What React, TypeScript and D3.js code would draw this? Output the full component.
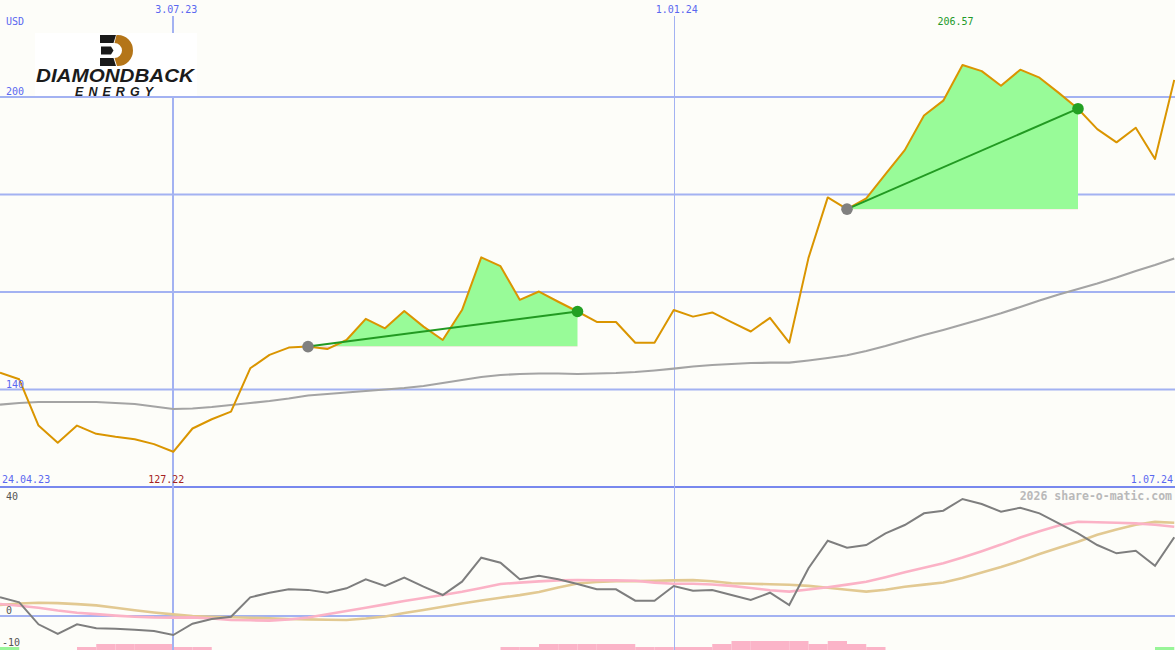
import React from "react";
import * as d3 from "d3";

const W = 1175;
const H = 650;

// weekly observation dates (categories)
const startDate = new Date(2023, 4, 1);
const dates: Date[] = d3.range(62).map((i) => d3.timeDay.offset(startDate, 7 * i));

const price = [
  143.45, 142.1, 132.6, 129.1, 132.6, 130.9, 130.3, 129.8, 128.8, 127.22,
  132.0, 133.9, 135.45, 144.35, 147.1, 148.6, 148.8, 148.3, 150.15, 154.5,
  152.55, 156.1, 152.9, 150.15, 156.3, 167.1, 165.3, 158.4, 160.1, 158.0,
  156.0, 153.85, 153.85, 149.6, 149.6, 156.3, 154.95, 155.8, 153.8, 151.9,
  154.7, 149.6, 167.0, 179.4, 177.0, 179.2, 184.2, 189.1, 196.2, 199.25,
  206.57, 205.3, 202.3, 205.6, 203.96, 200.84, 197.6, 193.4, 190.7, 193.7,
  187.3, 203.5,
];

const movingAvg = [
  136.88, 137.23, 137.44, 137.44, 137.44, 137.44, 137.23, 137.03, 136.51, 136.0,
  136.1, 136.41, 136.82, 137.23, 137.64, 138.15, 138.77, 139.08, 139.38, 139.69,
  140.0, 140.31, 140.72, 141.33, 141.95, 142.56, 142.97, 143.18, 143.28, 143.28,
  143.18, 143.28, 143.38, 143.59, 143.9, 144.27, 144.72, 145.03, 145.23, 145.44,
  145.5, 145.5, 145.95, 146.46, 147.02, 147.9, 148.92, 150.05, 151.18, 152.21,
  153.33, 154.46, 155.63, 156.92, 158.26, 159.49, 160.62, 161.74, 162.97, 164.31,
  165.54, 166.87,
];

const oscillator = [
  5.8, 4.25, -2.57, -5.58, -2.57, -3.81, -3.94, -4.25, -4.65, -5.89,
  -2.39, -0.93, -0.22, 5.8, 7.22, 8.28, 8.1, 7.22, 8.59, 11.38,
  9.3, 11.88, 9.09, 6.51, 10.64, 18.08, 16.53, 11.38, 12.5, 11.38,
  9.92, 8.28, 8.28, 4.74, 4.74, 9.3, 7.84, 8.06, 6.51, 4.96,
  7.22, 3.41, 14.79, 23.35, 21.18, 22.02, 25.64, 28.22, 31.84, 32.65,
  36.28, 34.73, 32.34, 33.58, 31.84, 28.74, 25.64, 22.02, 19.44, 20.25,
  15.6, 24.4,
];

const signalFast = [
  3.72, 3.19, 2.54, 1.71, 1.02, 0.59, 0.12, -0.22, -0.43, -0.5,
  -0.43, -0.78, -1.24, -1.33, -1.43, -1.09, -0.47, 0.56, 1.55, 2.54,
  3.6, 4.65, 5.58, 6.51, 7.5, 8.68, 9.92, 10.36, 10.73, 11.04,
  11.13, 11.1, 11.04, 10.91, 10.36, 10.02, 10.02, 9.77, 9.33, 8.68,
  8.0, 7.57, 8.22, 8.9, 9.74, 10.6, 12.03, 13.58, 14.95, 16.34,
  18.14, 20.09, 22.14, 24.34, 26.26, 28.06, 29.21, 29.09, 28.9, 28.71,
  28.28, 27.69,
];

const signalSlow = [
  3.41, 3.88, 4.09, 4.0, 3.69, 3.29, 2.57, 1.8, 1.09, 0.5,
  -0.03, -0.28, -0.4, -0.56, -0.74, -0.93, -1.05, -1.15, -1.24, -0.78,
  -0.16, 0.93, 1.86, 2.88, 3.88, 4.81, 5.67, 6.48, 7.44, 8.84,
  10.08, 10.54, 10.76, 10.82, 10.91, 11.04, 11.13, 10.79, 10.17, 9.98,
  9.86, 9.71, 9.33, 8.74, 8.12, 7.57, 8.12, 9.05, 9.74, 10.39,
  11.75, 13.49, 15.19, 17.09, 19.22, 21.15, 23.04, 25.18, 26.82, 28.31,
  29.18, 28.93,
];

const histogram = [
  1, 0, 0, 0, -1, -2, -2, -2, -2, -1,
  -1, 0, 0, 0, 0, 0, 0, 0, 0, 0,
  0, 0, 0, 0, 0, 0, -1, -1, -2, -2,
  -2, -2, -2, -1, -1, -1, -1, -2, -3, -3,
  -3, -3, -2, -3, -2, -1, 0, 0, 0, 0,
  0, 0, 0, 0, 0, 0, 0, 0, 0, 0,
  1, 0,
];

const trendSegments = [
  { from: 16, to: 30 },
  { from: 44, to: 56 },
];

const priceGridTicks = [140, 160, 180, 200];
const priceTickLabels = [200, 140];
const oscGridTicks = [0];
const oscTickLabels = [40, 0, -10];
const dateLines = [
  { date: new Date(2023, 6, 3), label: "3.07.23", width: 2 },
  { date: new Date(2024, 0, 1), label: "1.01.24", width: 1 },
];

const MONO = "'DejaVu Sans Mono', monospace";
const BLUE_TXT = "#5a68f0";
const GRID = "#a3b2f2";

export default function App() {
  React.useEffect(() => {
    document.body.style.margin = "0";
  }, []);

  const x = d3.scaleTime().domain([dates[0], dates[dates.length - 1]]).range([0, 1174.25]);
  const yP = d3.scaleLinear().domain([140, 200]).range([389.5, 97]);
  const yO = d3.scaleLinear().domain([-10, 40]).range([648.25, 487]);
  const yH = d3.scaleLinear().domain([0, 3]).range([650, 641]);
  const step = x(dates[1]) - x(dates[0]);

  const xi = (i: number) => x(dates[i]);
  const priceLine = d3.line<number>().x((_, i) => xi(i)).y((d) => yP(d));
  const oscLine = d3.line<number>().x((_, i) => xi(i)).y((d) => yO(d));

  const minIdx = price.indexOf(d3.min(price) as number);
  const maxIdx = price.indexOf(d3.max(price) as number);

  return (
    <div style={{ position: "absolute", left: 0, top: 0 }}>
      <svg width={W} height={H} style={{ display: "block" }}>
        <defs>
          <clipPath id="pricePanel">
            <rect x={0} y={0} width={W} height={487} />
          </clipPath>
          <clipPath id="oscPanel">
            <rect x={0} y={488} width={W} height={162} />
          </clipPath>
          {trendSegments.map((s, k) => {
            const b = yP(price[s.from]);
            return (
              <React.Fragment key={k}>
                <clipPath id={`up${k}`}>
                  <rect x={0} y={0} width={W} height={b} />
                </clipPath>
                <clipPath id={`dn${k}`}>
                  <rect x={0} y={b} width={W} height={487 - b} />
                </clipPath>
              </React.Fragment>
            );
          })}
        </defs>
        <rect x={0} y={0} width={W} height={H} fill="#fdfdf9" />

        {/* histogram bars */}
        {histogram.map((h, i) =>
          h === 0 ? null : (
            <rect
              key={i}
              x={xi(i)}
              y={yH(Math.abs(h))}
              width={step}
              height={650 - yH(Math.abs(h))}
              fill={h > 0 ? "#98f598" : "#fbb4c8"}
            />
          )
        )}

        {/* grid lines */}
        {priceGridTicks.map((t) => (
          <line key={t} x1={0} x2={W} y1={yP(t)} y2={yP(t)} stroke={GRID} strokeWidth={2} />
        ))}
        {oscGridTicks.map((t) => (
          <line key={t} x1={0} x2={W} y1={yO(t)} y2={yO(t)} stroke={GRID} strokeWidth={2} />
        ))}
        <line x1={0} x2={W} y1={487} y2={487} stroke="#7888ee" strokeWidth={2} />
        {dateLines.map((d) => (
          <line
            key={d.label}
            x1={Math.round(x(d.date)) + (d.width === 1 ? 0.5 : 0)}
            x2={Math.round(x(d.date)) + (d.width === 1 ? 0.5 : 0)}
            y1={16}
            y2={650}
            stroke={GRID}
            strokeWidth={d.width}
          />
        ))}

        {/* trend fills */}
        <g clipPath="url(#pricePanel)">
          {trendSegments.map((s, k) => {
            const idx = d3.range(s.from, s.to + 1);
            const base = yP(price[s.from]);
            const area = d3
              .area<number>()
              .x((i) => xi(i))
              .y0(base)
              .y1((i) => yP(price[i]));
            const d = area(idx) || "";
            return (
              <g key={k}>
                <path d={d} fill="#98fb98" clipPath={`url(#up${k})`} />
                <path d={d} fill="#ffb6c1" clipPath={`url(#dn${k})`} />
              </g>
            );
          })}

          <path d={priceLine(movingAvg) || ""} fill="none" stroke="#a4a4a4" strokeWidth={2.2} />
          <path d={priceLine(price) || ""} fill="none" stroke="#da9500" strokeWidth={2} strokeLinejoin="round" />

          {trendSegments.map((s, k) => (
            <g key={k}>
              <line
                x1={xi(s.from)}
                y1={yP(price[s.from])}
                x2={xi(s.to)}
                y2={yP(price[s.to])}
                stroke="#229a22"
                strokeWidth={2}
              />
              <circle cx={xi(s.from)} cy={yP(price[s.from])} r={5.8} fill="#808080" />
              <circle cx={xi(s.to)} cy={yP(price[s.to])} r={5.8} fill="#23a023" />
            </g>
          ))}
        </g>

        {/* oscillator panel */}
        <g clipPath="url(#oscPanel)">
          <path d={oscLine(signalSlow) || ""} fill="none" stroke="#e2c992" strokeWidth={2.6} />
          <path d={oscLine(signalFast) || ""} fill="none" stroke="#fbb2c6" strokeWidth={2.6} />
          <path d={oscLine(oscillator) || ""} fill="none" stroke="#7e7e7e" strokeWidth={2} />
        </g>

        {/* logo */}
        <g>
          <rect x={35} y={33} width={162} height={63} fill="#ffffff" />
          <path d="M100,35 L116,35 L113.5,43 L100,43 Z" fill="#1a1a1a" />
          <path d="M101,46.5 L111,46.5 L113.5,50.5 L111,54.5 L101,54.5 Z" fill="#1a1a1a" />
          <path d="M100,58 L113.5,58 L116,66 L100,66 Z" fill="#1a1a1a" />
          <path
            d="M116.5,35 L118,35 A15,15.5 0 0 1 118,66 L117,66 L114.5,58 A7.5,7.5 0 0 0 114.5,43 Z"
            fill="#b47518"
          />
          <text
            x={36}
            y={82}
            fontFamily="'Liberation Sans', Arial, sans-serif"
            fontWeight="bold"
            fontStyle="italic"
            fontSize={18.5}
            textLength={158}
            lengthAdjust="spacingAndGlyphs"
            fill="#1b1b1b"
          >
            DIAMONDBACK
          </text>
          <text
            x={75}
            y={95.5}
            fontFamily="'Liberation Sans', Arial, sans-serif"
            fontWeight="bold"
            fontStyle="italic"
            fontSize={12.5}
            textLength={78}
            lengthAdjust="spacing"
            fill="#1b1b1b"
          >
            ENERGY
          </text>
        </g>

        {/* texts */}
        <g fontFamily={MONO} fontSize={10}>
          <text x={6} y={25} fill={BLUE_TXT}>USD</text>
          {priceTickLabels.map((t) => (
            <text key={t} x={6} y={yP(t) - 2} fill={BLUE_TXT}>
              {t}
            </text>
          ))}
          {dateLines.map((d) => (
            <text key={d.label} x={x(d.date) + 3} y={13} fill={BLUE_TXT} textAnchor="middle">
              {d.label}
            </text>
          ))}
          <text x={xi(maxIdx) - 7} y={25} fill="#22992a" textAnchor="middle">
            {price[maxIdx].toFixed(2)}
          </text>
          <text x={2} y={483} fill={BLUE_TXT}>24.04.23</text>
          <text x={xi(minIdx) - 7} y={483} fill="#a52222" textAnchor="middle">
            {price[minIdx].toFixed(2)}
          </text>
          <text x={1173} y={483} fill={BLUE_TXT} textAnchor="end">1.07.24</text>
          {oscTickLabels.map((t) => (
            <text
              key={t}
              x={t < 0 ? 2 : 6}
              y={t === 40 ? 500 : t === 0 ? yO(t) - 2 : 646}
              fill="#555555"
            >
              {t}
            </text>
          ))}
          <text
            x={1172}
            y={500}
            fill="#b9b9b9"
            textAnchor="end"
            fontWeight="bold"
            fontSize={11.5}
          >
            2026 share-o-matic.com
          </text>
        </g>
      </svg>
    </div>
  );
}
